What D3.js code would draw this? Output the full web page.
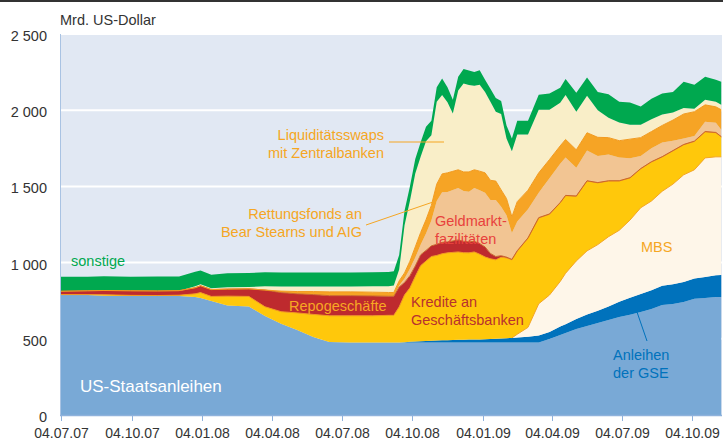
<!DOCTYPE html>
<html>
<head>
<meta charset="utf-8">
<script src="https://cdn.jsdelivr.net/npm/d3@7"></script>
<style>
  body { margin: 0; background: #fff; }
  svg { display: block; font-family: "Liberation Sans", Arial, sans-serif; }
</style>
</head>
<body>
<div id="chart"></div>
<script>
// Fed balance sheet assets, Mrd. US-Dollar
const dates = [
  "2007-07-04","2007-08-08","2007-08-29","2007-10-03","2007-11-07","2007-12-05","2007-12-26",
  "2008-01-02","2008-01-16","2008-02-06","2008-03-05","2008-03-26","2008-04-16","2008-05-07",
  "2008-05-28","2008-06-18","2008-07-16","2008-08-13","2008-09-03","2008-09-10","2008-09-17",
  "2008-09-24","2008-10-01","2008-10-08","2008-10-15","2008-10-22","2008-10-29","2008-11-05",
  "2008-11-12","2008-11-19","2008-11-26","2008-12-03","2008-12-10","2008-12-17","2008-12-24",
  "2008-12-31","2009-01-07","2009-01-14","2009-01-21","2009-01-28","2009-02-04","2009-02-11",
  "2009-02-18","2009-03-04","2009-03-18","2009-04-01","2009-04-15","2009-04-22","2009-05-06",
  "2009-05-20","2009-06-03","2009-06-17","2009-07-01","2009-07-15","2009-07-29","2009-08-12",
  "2009-08-26","2009-09-09","2009-09-23","2009-10-07","2009-10-21","2009-11-04","2009-11-11"
];
const staatsanleihen = [788,788,783,781,781,781,775, 768,748,718,712,650,598,558, 512,479,476,476,476,476,476,
  476,476,476,476,476,476,476, 476,476,476,476,476,476,476, 476,476,476,476,476,476,476,
  476,476,476,499,525,538,565, 584,604,624,643,657,676,696, 722,729,742,762,768,775,775];
const gse = [0,0,0,0,0,0,0, 0,0,0,0,0,0,0, 0,0,0,0,0,0,0,
  2,4,6,8,10,12,13, 14,15,16,17,18,19,20, 20,21,22,24,26,28,30,
  32,38,46,45,55,58,65, 75,80,88,100,112,118,122, 126,129,131,133,137,142,144];
const mbs = [0,0,0,0,0,0,0, 0,0,0,0,0,0,0, 0,0,0,0,0,0,0,
  0,0,0,0,0,0,0, 0,0,0,0,0,0,0, 0,0,0,0,0,0,0,
  22,61,208,243,296,334,381, 418,434,458,469,510,566,586, 620,657,703,714,782,777,775];
const kredite = [2,2,6,4,3,5,20, 35,30,62,66,60,80,112, 148,172,175,175,178,178,233,
  310,354,427,496,524,552,558, 568,573,575,577,571,569,574, 559,540,527,518,533,527,512,
  545,585,563,530,516,509,424, 458,405,365,323,276,255,256, 225,218,197,186,171,158,131];
const repo = [22,25,28,30,30,30,40, 45,45,46,50,110,125,125, 130,132,132,130,125,125,131,
  82,80,69,71,70,70,73, 75,72,75,79,75,72,70, 70,66,35,22,10,5,3,
  3,2,2,2,2,2,2, 2,2,2,2,2,2,2, 2,2,2,2,2,2,2];
const geldmarkt = [0,0,0,0,0,0,0, 0,0,0,0,0,0,0, 0,0,0,0,0,0,10,
  25,45,55,66,111,166,285, 328,328,335,341,330,329,350, 350,355,350,370,321,274,174,
  192,188,163,235,254,249,185, 198,175,173,153,128,83,88, 93,65,40,33,64,63,44];
const rettung = [0,0,0,0,0,0,0, 0,0,0,0,0,10,15, 20,25,25,25,25,25,30,
  37,50,70,80,90,100,110, 121,125,122,119,125,130,119, 125,131,130,125,111,110,105,
  130,125,131,122,118,118,118, 117,122,110,110,125,120,110, 112,135,160,160,111,105,132];
const swaps = [0,0,0,0,0,0,10, 10,8,12,12,25,30,33, 33,35,35,38,40,45,75,
  313,396,482,498,515,459,540, 518,463,379,520,580,570,551, 567,531,515,455,498,395,430,
  440,365,414,327,283,292,250, 243,178,130,120,94,84,80, 72,50,40,20,33,33,32];
const sonstige = [95,92,93,92,95,92,95, 90,90,92,92,92,92,92, 92,92,92,92,95,95,95,
  95,95,95,95,95,95,95, 108,98,90,90,95,95,90, 95,80,85,90,85,85,85,
  90,90,98,107,98,105,124, 120,120,155,135,146,121,135, 138,135,171,157,151,145,151];

const keys = ["staats","gse","mbs","kredite","repo","geldmarkt","rettung","swaps","sonstige"];
const colors = {
  staats: "#79a9d6", gse: "#0072bc", mbs: "#fef6e9", kredite: "#ffc80b", repo: "#be2a2e",
  geldmarkt: "#f2c593", rettung: "#f6a425", swaps: "#f9eec8", sonstige: "#00a84f"
};
const yTicks = [0, 500, 1000, 1500, 2000, 2500];
const xTicks = ["2007-07-04","2007-10-04","2008-01-04","2008-04-04","2008-07-04",
  "2008-10-04","2009-01-04","2009-04-04","2009-07-04","2009-10-04"];

const parse = d3.utcParse("%Y-%m-%d");
const rows = dates.map((d, i) => ({
  date: parse(d),
  staats: staatsanleihen[i], gse: gse[i], mbs: mbs[i], kredite: kredite[i], repo: repo[i],
  geldmarkt: geldmarkt[i], rettung: rettung[i], swaps: swaps[i], sonstige: sonstige[i]
}));

const W = 723, H = 441;
const plotL = 61, plotR = 722, plotT = 34, plotB = 415;

const svg = d3.select("#chart").append("svg")
  .attr("width", W).attr("height", H);

const x = d3.scaleUtc()
  .domain([parse("2007-07-04"), parse("2009-11-12")])
  .range([plotL, plotR]);
const y = d3.scaleLinear().domain([0, 2500]).range([plotB, plotT]);

// top rule
svg.append("rect").attr("x", 0).attr("y", 0).attr("width", W).attr("height", 2).attr("fill", "#333");

// plot background
svg.append("rect")
  .attr("x", plotL).attr("y", plotT).attr("width", plotR - plotL).attr("height", plotB - plotT)
  .attr("fill", "#e1e8f3");

// white grid lines
svg.append("g").selectAll("line").data(yTicks.slice(1)).join("line")
  .attr("x1", plotL).attr("x2", plotR)
  .attr("y1", d => y(d)).attr("y2", d => y(d))
  .attr("stroke", "#fff").attr("stroke-width", 2);

svg.append("defs").append("clipPath").attr("id", "plot")
  .append("rect").attr("x", plotL).attr("y", 0).attr("width", plotR - plotL).attr("height", plotB);

const series = d3.stack().keys(keys)(rows);

const area = d3.area()
  .x(d => x(d.data.date))
  .y0(d => y(d[0]))
  .y1(d => y(d[1]));

const topLine = d3.line()
  .x(d => x(d.data.date))
  .y(d => y(d[1]));

const g = svg.append("g").attr("clip-path", "url(#plot)");

g.selectAll("path.layer").data(series).join("path")
  .attr("class", "layer")
  .attr("d", area)
  .attr("fill", d => colors[d.key]);

// thin outlines on top of some layers
const outlines = { mbs: "#f5a623", kredite: "#f39a1e", repo: "#c9652c", rettung: "#f39a1e" };
series.filter(s => outlines[s.key]).forEach(s => {
  const data = s.key === "mbs" ? s.filter(d => d.data.date >= parse("2009-02-11")) : s;
  g.append("path")
    .attr("d", topLine(data))
    .attr("fill", "none")
    .attr("stroke", outlines[s.key])
    .attr("stroke-width", 1);
});

// axes
svg.append("line")
  .attr("x1", plotL - 0.5).attr("x2", plotL - 0.5).attr("y1", plotT).attr("y2", plotB)
  .attr("stroke", "#a9c3e3").attr("stroke-width", 1);
svg.append("line")
  .attr("x1", plotL - 1).attr("x2", plotR).attr("y1", plotB + 0.5).attr("y2", plotB + 0.5)
  .attr("stroke", "#8fb2dc").attr("stroke-width", 1.5);

const xTickG = svg.append("g").selectAll("g").data(xTicks.map(parse)).join("g")
  .attr("transform", d => `translate(${Math.round(x(d)) + 0.5},0)`);
xTickG.append("line").attr("y1", plotB).attr("y2", plotB + 6)
  .attr("stroke", "#8fb2dc").attr("stroke-width", 1);
xTickG.append("text")
  .attr("y", 437.5).attr("text-anchor", "middle")
  .attr("font-size", 14).attr("fill", "#333")
  .text(d3.utcFormat("%d.%m.%y"));

const fmt = d3.format(",");
svg.append("g").selectAll("text").data(yTicks).join("text")
  .attr("x", 47).attr("y", d => y(d) + 7)
  .attr("text-anchor", "end").attr("font-size", 14.5).attr("fill", "#333")
  .text(d => fmt(d).replace(",", " "));

svg.append("text").attr("x", 60).attr("y", 25)
  .attr("font-size", 14.5).attr("fill", "#333").text("Mrd. US-Dollar");

// labels
function label(lines, xPos, yPos, color, anchor, size) {
  const t = svg.append("text")
    .attr("x", xPos).attr("y", yPos)
    .attr("fill", color).attr("text-anchor", anchor || "start")
    .attr("font-size", size || 14.5);
  lines.forEach((l, i) => t.append("tspan").attr("x", xPos).attr("dy", i === 0 ? 0 : 17.5).text(l));
}
label(["sonstige"], 71, 266, "#00a84f");
label(["US-Staatsanleihen"], 80, 392, "#ffffff", "start", 17);
label(["Repogeschäfte"], 289, 311, "#f7a823");
label(["Kredite an", "Geschäftsbanken"], 411, 307, "#b8312f");
label(["Geldmarkt-", "fazilitäten"], 435, 226, "#e8413c");
label(["Liquiditätsswaps", "mit Zentralbanken"], 384, 140, "#f5a623", "end");
label(["Rettungsfonds an", "Bear Stearns und AIG"], 362, 219, "#f5a623", "end");
label(["MBS"], 641, 252, "#f5a623");
label(["Anleihen", "der GSE"], 613, 360, "#0072bc");

// leader lines
const leaders = [
  { x1: 389, y1: 142, x2: 444, y2: 142, c: "#f5a623" },
  { x1: 366, y1: 225, x2: 433, y2: 202, c: "#f5a623" },
  { x1: 637, y1: 312, x2: 647, y2: 341, c: "#0072bc" }
];
svg.append("g").selectAll("line").data(leaders).join("line")
  .attr("x1", d => d.x1).attr("y1", d => d.y1).attr("x2", d => d.x2).attr("y2", d => d.y2)
  .attr("stroke", d => d.c).attr("stroke-width", 1);
</script>
</body>
</html>
